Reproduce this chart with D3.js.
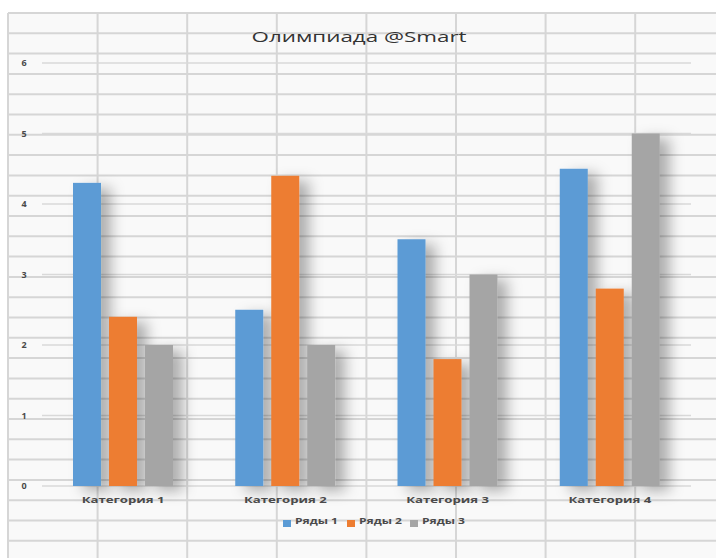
<!DOCTYPE html>
<html lang="ru">
<head>
    <meta charset="UTF-8">
    <script src="https://d3js.org/d3.v7.min.js"></script>
    <title>Олимпиада @Smart</title>
    <style>
        body { margin: 0; background: #fff; }
        text { font-family: "Open Sans", "Noto Sans", sans-serif; }
    </style>
</head>
<body>
<div id="draw_here"></div>

<script type="text/javascript">

    var width = 716;
    var height = 558;

    // chart data
    var categories = ["Категория 1", "Категория 2", "Категория 3", "Категория 4"];
    var seriesNames = ["Ряды 1", "Ряды 2", "Ряды 3"];
    var series1 = [4.3, 2.5, 3.5, 4.5];
    var series2 = [2.4, 4.4, 1.8, 2.8];
    var series3 = [2, 2, 3, 5];
    var yTicks = [0, 1, 2, 3, 4, 5, 6];
    var colors = ["#5b9bd5", "#ed7d31", "#a5a5a5"];

    var values = [series1, series2, series3];
    var data = [];
    categories.forEach((c, i) => {
        seriesNames.forEach((s, j) => {
            data.push({cat: c, series: s, value: values[j][i]});
        });
    });

    var svg = d3.select("#draw_here")
        .append("svg")
        .attr("width", width)
        .attr("height", height);

    var defs = svg.append("defs");
    var f = defs.append("filter")
        .attr("id", "shadow")
        .attr("x", "-30%").attr("y", "-10%")
        .attr("width", "220%").attr("height", "130%");
    f.append("feDropShadow")
        .attr("dx", 10).attr("dy", 5)
        .attr("stdDeviation", 7)
        .attr("flood-color", "#000")
        .attr("flood-opacity", 0.3);

    // spreadsheet cells behind the chart
    var sheet = svg.append("g");
    sheet.append("rect")
        .attr("x", 8).attr("y", 13)
        .attr("width", width - 8).attr("height", height - 13)
        .attr("fill", "#f9f9f9");
    sheet.selectAll(".vline")
        .data(d3.range(8, width, 89.6))
        .join("line")
        .attr("x1", d => d).attr("x2", d => d)
        .attr("y1", 13).attr("y2", height)
        .attr("stroke", "#d6d6d6")
        .attr("stroke-width", 2);
    sheet.selectAll(".hline")
        .data(d3.range(13, height, 20.3))
        .join("line")
        .attr("x1", 8).attr("x2", width)
        .attr("y1", d => d).attr("y2", d => d)
        .attr("stroke", "#d6d6d6")
        .attr("stroke-width", 2);

    var x = d3.scaleBand()
        .domain(categories)
        .range([42, 691]);

    var x1 = d3.scaleBand()
        .domain(seriesNames)
        .range([31, 131])
        .paddingInner(0.222);

    var y = d3.scaleLinear()
        .domain([0, 6])
        .range([486, 63]);

    var color = d3.scaleOrdinal().domain(seriesNames).range(colors);

    // gridlines
    svg.append("g")
        .selectAll("line")
        .data(yTicks)
        .join("line")
        .attr("x1", 42).attr("x2", 691)
        .attr("y1", d => y(d)).attr("y2", d => y(d))
        .attr("stroke", "#d9d9d9")
        .attr("stroke-width", 1.5);

    // y labels
    svg.append("g")
        .selectAll("text")
        .data(yTicks)
        .join("text")
        .attr("x", 24)
        .attr("y", d => y(d))
        .attr("dy", "0.35em")
        .attr("text-anchor", "middle")
        .attr("font-size", 9)
        .attr("font-weight", "bold")
        .attr("fill", "#4a4a4a")
        .text(d => d);

    // bars
    svg.append("g")
        .selectAll("rect")
        .data(data)
        .join("rect")
        .attr("x", d => x(d.cat) + x1(d.series))
        .attr("y", d => y(d.value))
        .attr("width", x1.bandwidth())
        .attr("height", d => y(0) - y(d.value))
        .attr("fill", d => color(d.series))
        .attr("filter", "url(#shadow)");

    // category labels
    svg.append("g")
        .selectAll("text")
        .data(categories)
        .join("text")
        .attr("x", d => x(d) + x.bandwidth() / 2)
        .attr("y", 503)
        .attr("text-anchor", "middle")
        .attr("font-size", 9)
        .attr("font-weight", "bold")
        .attr("fill", "#4a4a4a")
        .attr("textLength", 83)
        .attr("lengthAdjust", "spacingAndGlyphs")
        .text(d => d);

    // title
    svg.append("text")
        .attr("x", 359)
        .attr("y", 42)
        .attr("text-anchor", "middle")
        .attr("font-size", 15)
        .attr("fill", "#333")
        .attr("textLength", 215)
        .attr("lengthAdjust", "spacingAndGlyphs")
        .text("Олимпиада @Smart");

    // legend
    var legendX = [283, 347, 410];
    var legend = svg.append("g")
        .selectAll("g")
        .data(seriesNames)
        .join("g")
        .attr("transform", (d, i) => `translate(${legendX[i]},521)`);
    legend.append("rect")
        .attr("x", 0).attr("y", -1)
        .attr("width", 8).attr("height", 7)
        .attr("fill", d => color(d));
    legend.append("text")
        .attr("x", 12)
        .attr("y", 3)
        .attr("font-size", 8.5)
        .attr("font-weight", "bold")
        .attr("fill", "#4a4a4a")
        .attr("textLength", 43)
        .attr("lengthAdjust", "spacingAndGlyphs")
        .text(d => d);

</script>
</body>
</html>
